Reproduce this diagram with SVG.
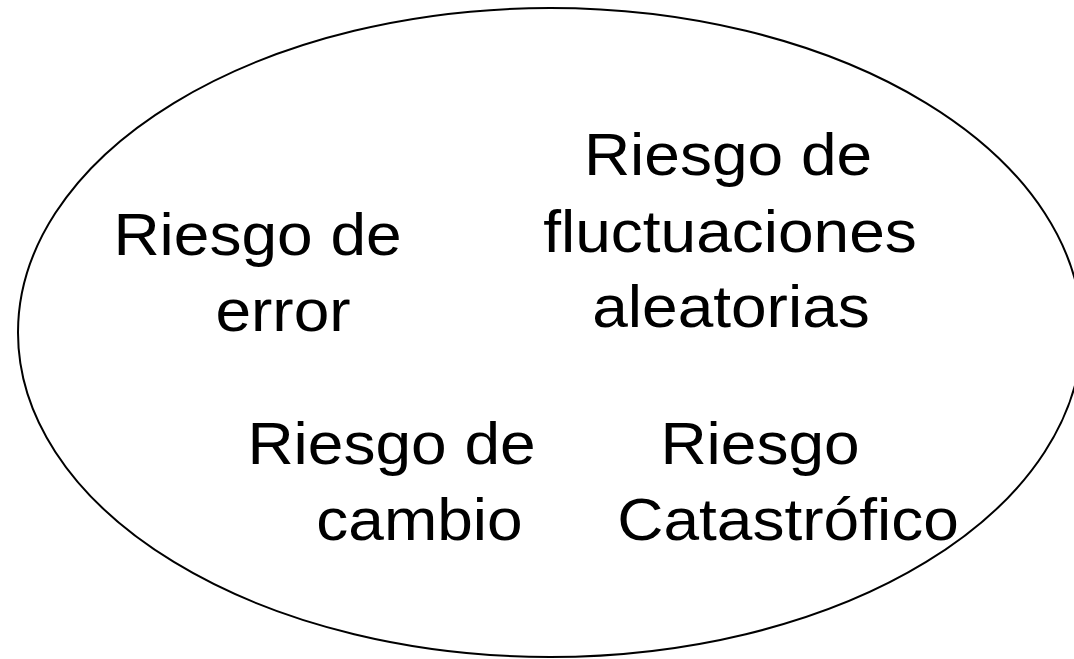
<svg xmlns="http://www.w3.org/2000/svg" width="1074" height="659" viewBox="0 0 1074 659">
<style>
text{font-family:"Liberation Sans",Arial,sans-serif;font-size:59px;fill:#000;text-anchor:middle}
</style>
<rect width="1074" height="659" fill="#fff"/>
<g id="ellipse">
<ellipse cx="550" cy="332.5" rx="532" ry="324.5" fill="none" stroke="#000" stroke-width="2"/>
</g>
<g id="node-error">
<text transform="translate(257.5,255) scale(1.085,1)">Riesgo de</text>
<text transform="translate(283,331) scale(1.085,1)">error</text>
</g>
<g id="node-fluct">
<text transform="translate(728,175) scale(1.085,1)">Riesgo de</text>
<text transform="translate(730,251.5) scale(1.085,1)">fluctuaciones</text>
<text transform="translate(731,327) scale(1.085,1)">aleatorias</text>
</g>
<g id="node-cambio">
<text transform="translate(391.5,464) scale(1.085,1)">Riesgo de</text>
<text transform="translate(419.5,540) scale(1.085,1)">cambio</text>
</g>
<g id="node-catastrofico">
<text transform="translate(760,464) scale(1.085,1)">Riesgo</text>
<text transform="translate(788,540) scale(1.085,1)">Catastrófico</text>
</g>
<g id="connectors"/>
</svg>
